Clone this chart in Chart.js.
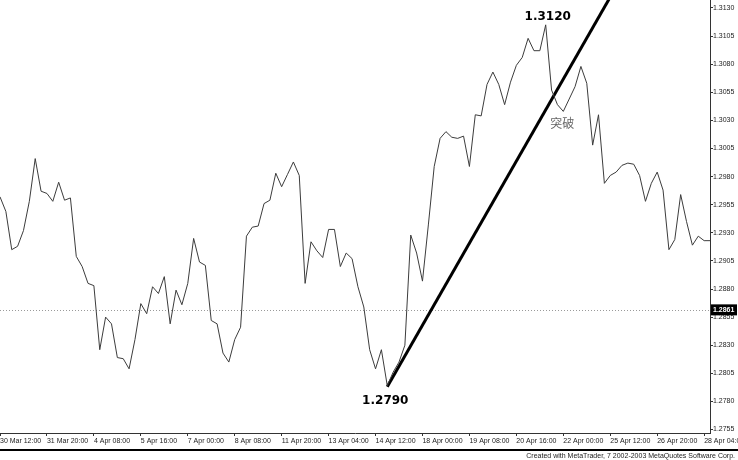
<!DOCTYPE html>
<html>
<head>
<meta charset="utf-8">
<script src="https://cdn.jsdelivr.net/npm/chart.js@4/dist/chart.umd.min.js"></script>
<style>
  html, body { margin: 0; padding: 0; background: #fff; }
  #chart { display: block; }
</style>
</head>
<body>
<canvas id="chart" width="738" height="460"></canvas>
<script>
// 4-hour closes
const closes = [
    1.2962, 1.2949, 1.2915, 1.2918, 1.2932, 1.2958, 1.2996, 1.2967, 1.2965, 1.2958,
    1.2975, 1.2959, 1.2961, 1.2909, 1.2900, 1.2885, 1.2883, 1.2826, 1.2855, 1.2849,
    1.2819, 1.2818, 1.2809, 1.2835, 1.2867, 1.2858, 1.2882, 1.2876, 1.2891, 1.2849,
    1.2879, 1.2866, 1.2885, 1.2925, 1.2904, 1.2901, 1.2852, 1.2849, 1.2823, 1.2815,
    1.2835, 1.2846, 1.2927, 1.2935, 1.2936, 1.2956, 1.2959, 1.2983, 1.2971, 1.2982,
    1.2993, 1.2981, 1.2885, 1.2922, 1.2914, 1.2908, 1.2933, 1.2933, 1.2900, 1.2912,
    1.2907, 1.2882, 1.2864, 1.2826, 1.2809, 1.2826, 1.2794, 1.2806, 1.2815, 1.2830,
    1.2928, 1.2912, 1.2887, 1.2937, 1.2989, 1.3014, 1.3020, 1.3015, 1.3014, 1.3016,
    1.2989, 1.3035, 1.3034, 1.3062, 1.3073, 1.3062, 1.3044, 1.3064, 1.3079, 1.3086,
    1.3103, 1.3092, 1.3092, 1.3115, 1.3057, 1.3044, 1.3038, 1.3049, 1.3060, 1.3078,
    1.3063, 1.3008, 1.3035, 1.2974, 1.2981, 1.2984, 1.2990, 1.2992, 1.2991, 1.2981,
    1.2958, 1.2974, 1.2984, 1.2968, 1.2915, 1.2924, 1.2964, 1.2940, 1.2919, 1.2927,
    1.2923, 1.2923
];

// one time label every 8 bars
const tickLabels = [
    '30 Mar 12:00', '31 Mar 20:00', '4 Apr 08:00', '5 Apr 16:00', '7 Apr 00:00',
    '8 Apr 08:00', '11 Apr 20:00', '13 Apr 04:00', '14 Apr 12:00', '18 Apr 00:00',
    '19 Apr 08:00', '20 Apr 16:00', '22 Apr 00:00', '25 Apr 12:00', '26 Apr 20:00',
    '28 Apr 04:00'
];
const barsPerLabel = 8;

const yTicks = [
    1.2755, 1.2780, 1.2805, 1.2830, 1.2855, 1.2880, 1.2905, 1.2930,
    1.2955, 1.2980, 1.3005, 1.3030, 1.3055, 1.3080, 1.3105, 1.3130
];
const yMin = 1.27519;
const yMax = 1.31371;

const currentPrice = 1.2861;

// trend line drawn from the low through the break
const trendIndex = [66, 106];
const trendPrice = [1.2793, 1.3158];

const notes = [
    { index: 93, price: 1.3120, text: '1.3120' },
    { index: 66, price: 1.2790, text: '1.2790' },
    { index: 97, price: 1.3025, text: '突破' }
];

const labels = closes.map((c, i) => i % barsPerLabel === 0 ? (tickLabels[i / barsPerLabel] || '') : '');
const trendData = closes.map((c, i) => {
    const k = trendIndex.indexOf(i);
    return k >= 0 ? trendPrice[k] : null;
});

const smallFont = { family: 'Liberation Sans, Arial, sans-serif', size: 7 };

const extrasPlugin = {
    id: 'extras',
    beforeDatasetsDraw(chart) {
        const ctx = chart.ctx;
        const area = chart.chartArea;
        const y = Math.round(chart.scales.y.getPixelForValue(currentPrice)) + 0.5;
        ctx.save();
        ctx.strokeStyle = '#9a9a9a';
        ctx.lineWidth = 1;
        ctx.setLineDash([1, 2]);
        ctx.beginPath();
        ctx.moveTo(area.left, y);
        ctx.lineTo(area.right, y);
        ctx.stroke();
        ctx.restore();
    },
    afterDraw(chart) {
        const ctx = chart.ctx;
        const xs = chart.scales.x;
        const ys = chart.scales.y;
        const area = chart.chartArea;
        ctx.save();

        // current price box
        const py = ys.getPixelForValue(currentPrice);
        ctx.fillStyle = '#000';
        ctx.fillRect(area.right + 1, py - 6, 26, 11);
        ctx.fillStyle = '#fff';
        ctx.font = 'bold 7px Liberation Sans, Arial, sans-serif';
        ctx.textBaseline = 'middle';
        ctx.textAlign = 'left';
        ctx.fillText(currentPrice.toFixed(4), area.right + 3, py);

        // notes
        ctx.fillStyle = '#000';
        ctx.textAlign = 'center';
        ctx.font = 'bold 12px DejaVu Sans, sans-serif';
        ctx.fillText(notes[0].text, xs.getPixelForValue(notes[0].index) + 2, ys.getPixelForValue(notes[0].price) - 2);
        ctx.fillText(notes[1].text, xs.getPixelForValue(notes[1].index) - 2, ys.getPixelForValue(notes[1].price) + 11);
        ctx.fillStyle = '#666';
        ctx.font = '12px "Noto Sans CJK SC", sans-serif';
        ctx.fillText(notes[2].text, xs.getPixelForValue(notes[2].index) - 7, ys.getPixelForValue(notes[2].price) - 3);

        // footer
        ctx.fillStyle = '#000';
        ctx.fillRect(0, 449, chart.width, 2);
        ctx.font = '7px Liberation Sans, Arial, sans-serif';
        ctx.textAlign = 'right';
        ctx.fillStyle = '#222';
        ctx.fillText('Created with MetaTrader, 7 2002-2003 MetaQuotes Software Corp.', chart.width - 3, 456);
        ctx.restore();
    }
};

new Chart(document.getElementById('chart').getContext('2d'), {
    type: 'line',
    data: {
        labels: labels,
        datasets: [
            {
                data: closes,
                borderColor: '#3c3c3c',
                borderWidth: 1,
                pointRadius: 0,
                tension: 0
            },
            {
                data: trendData,
                borderColor: '#000',
                borderWidth: 3,
                pointRadius: 0,
                spanGaps: true,
                tension: 0
            }
        ]
    },
    options: {
        responsive: false,
        animation: false,
        devicePixelRatio: 1,
        layout: { padding: 0 },
        plugins: {
            legend: { display: false },
            tooltip: { enabled: false }
        },
        scales: {
            x: {
                offset: false,
                grid: {
                    drawOnChartArea: false,
                    tickLength: 3,
                    color: c => (c.index % barsPerLabel === 0 ? '#333' : 'rgba(0,0,0,0)')
                },
                border: { display: true, color: '#333', width: 1 },
                ticks: {
                    autoSkip: false,
                    maxRotation: 0,
                    minRotation: 0,
                    align: 'start',
                    padding: 1,
                    color: '#222',
                    font: smallFont
                },
                afterFit: s => { s.height = 27; s.paddingLeft = 0; s.paddingRight = 0; }
            },
            y: {
                position: 'right',
                min: yMin,
                max: yMax,
                afterBuildTicks: s => { s.ticks = yTicks.map(v => ({ value: v })); },
                grid: {
                    drawOnChartArea: false,
                    tickLength: 3,
                    color: '#333'
                },
                border: { display: true, color: '#333', width: 1 },
                ticks: {
                    padding: 0,
                    color: '#222',
                    font: smallFont,
                    callback: v => Number(v).toFixed(4)
                },
                afterFit: s => { s.width = 28; s.paddingTop = 0; s.paddingBottom = 0; }
            }
        }
    },
    plugins: [extrasPlugin]
});
</script>
</body>
</html>
